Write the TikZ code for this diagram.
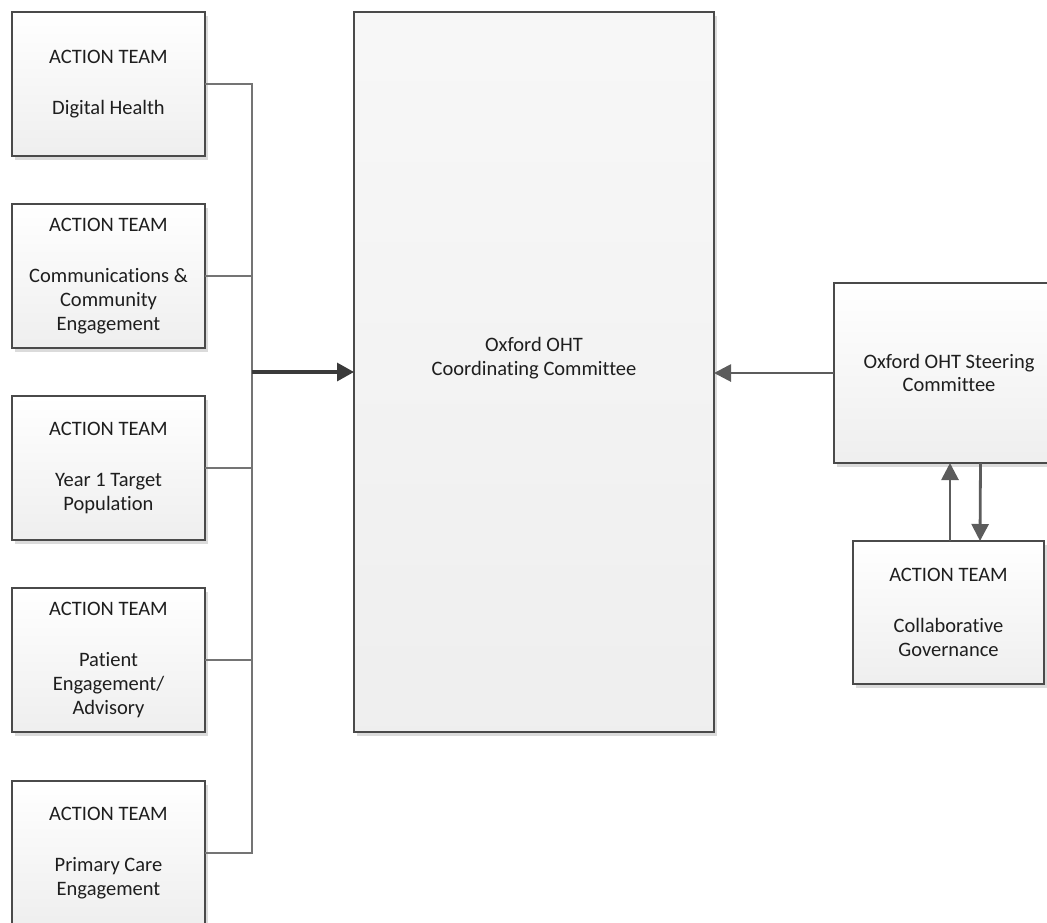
\documentclass[tikz,border=0pt]{standalone}
\usepackage{fontspec}
\setmainfont{Carlito}[Ligatures={NoCommon}]
\usetikzlibrary{arrows.meta,shadows}
\definecolor{boxline}{HTML}{4A4A4A}
\definecolor{connline}{HTML}{747474}
\definecolor{mainline}{HTML}{3A3A3A}
\definecolor{txt}{HTML}{1E1E1E}
\tikzset{
  teambox/.style={draw=boxline, line width=1.9pt, top color=white, bottom color=gray!13,
    minimum width=193pt, minimum height=144pt, inner sep=0pt, outer sep=0pt,
    align=center, text=txt, font=\fontsize{20.5}{23.8}\selectfont,
    drop shadow={shadow xshift=3pt, shadow yshift=-4pt, fill=gray!28, opacity=1}},
  conn/.style={draw=connline, line width=2.8pt},
  mainarrow/.style={draw=mainline, line width=3.2pt, -{Triangle[length=17pt,width=18pt]}},
  sidearrow/.style={draw=boxline!90, line width=2.8pt, -{Triangle[length=17pt,width=17pt]}}
}
\begin{document}
\begin{tikzpicture}[x=1pt,y=-1pt]
\useasboundingbox (0,0) rectangle (1047,922);
\node[teambox] (a1) at (108.5,84) {ACTION TEAM\\[27pt]Digital Health};
\node[teambox] (a2) at (108.5,276) {ACTION TEAM\\[27pt]Communications \&\\Community\\Engagement};
\node[teambox] (a3) at (108.5,468) {ACTION TEAM\\[27pt]Year 1 Target\\Population};
\node[teambox] (a4) at (108.5,660) {ACTION TEAM\\[27pt]Patient\\Engagement/\\Advisory};
\node[teambox] (a5) at (108.5,853) {ACTION TEAM\\[27pt]Primary Care\\Engagement};
\node[teambox, minimum width=360pt, minimum height=720pt, top color=gray!6, bottom color=gray!13] (coord) at (534,372) {Oxford OHT\\Coordinating Committee\\\strut};
\node[teambox, minimum width=230pt, minimum height=180pt] (steer) at (949,373) {Oxford OHT Steering\\Committee};
\node[teambox, minimum width=191pt, minimum height=143pt] (collab) at (948.5,612.5) {ACTION TEAM\\[27pt]Collaborative\\Governance};
\coordinate (bj) at (252,372);
\draw[conn] (a1.east) -| (bj);
\draw[conn] (a2.east) -| (bj);
\draw[conn] (a3.east) -| (bj);
\draw[conn] (a4.east) -| (bj);
\draw[conn] (a5.east) -| (bj);
\draw[mainarrow] (bj) -- (coord.west);
\draw[sidearrow] (steer.west) -- (steer.west -| coord.east);
\draw[sidearrow] ([xshift=1.5pt]collab.north) -- ([xshift=1.5pt]collab.north |- steer.south);
\draw[sidearrow] ([xshift=31.5pt]steer.south |- steer.south) -- ([xshift=31.5pt]collab.north);
\end{tikzpicture}
\end{document}
